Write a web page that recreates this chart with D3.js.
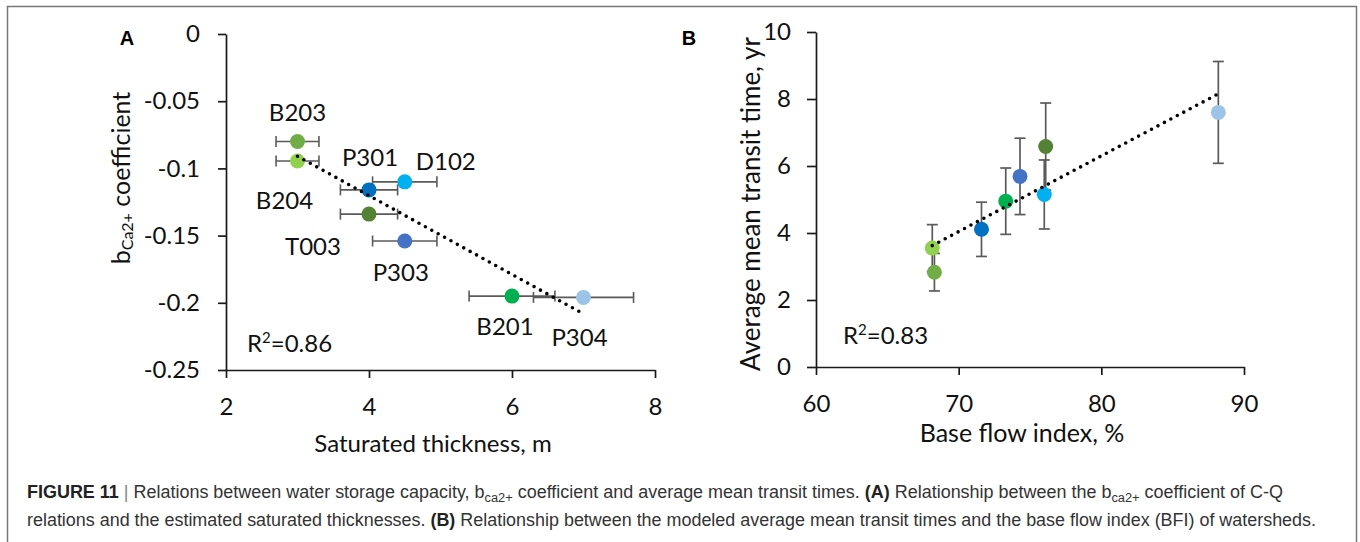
<!DOCTYPE html>
<html><head><meta charset="utf-8">
<script src="https://cdn.jsdelivr.net/npm/d3@7"></script>
<style>body{margin:0;background:#fff} svg{display:block}</style>
</head><body><svg id="c" width="1360" height="542"></svg>
<script>
// ---------- data ----------
const siteNames = ["B203","B204","P301","D102","T003","P303","B201","P304"];
const siteColors = ["#70AD47","#92D050","#0070C0","#00B0F0","#548235","#4472C4","#00B050","#9DC3E6"];
// Panel A: saturated thickness (m) vs b_Ca2+ coefficient
const thickness = [3, 3, 4, 4.5, 4, 4.5, 6, 7];
const thicknessErr = [0.3, 0.3, 0.4, 0.45, 0.4, 0.45, 0.6, 0.7];
const bCoef = [-0.08, -0.0945, -0.116, -0.11, -0.134, -0.154, -0.195, -0.196];
// Panel B: base flow index (%) vs average mean transit time (yr)
const bfi = [68.3, 68.15, 71.6, 76.0, 76.1, 74.3, 73.3, 88.2];
const transit = [2.83, 3.55, 4.11, 5.15, 6.58, 5.69, 4.95, 7.6];
const transitErr = [0.56, 0.7, 0.81, 1.03, 1.3, 1.14, 0.99, 1.52];
// ticks
const aXTicks = [2, 4, 6, 8];
const aYTicks = [0, -0.05, -0.1, -0.15, -0.2, -0.25];
const aYTickLabels = ["0", "-0.05", "-0.1", "-0.15", "-0.2", "-0.25"];
const bXTicks = [60, 70, 80, 90];
const bYTicks = [0, 2, 4, 6, 8, 10];
const r2A = "0.86", r2B = "0.83";

// ---------- layout (not data) ----------
const labelOffsetA = {B203:[0,-30],B204:[-13,38],P301:[1,-33],D102:[41,-21],T003:[-56,31],P303:[-4,31],B201:[-7,29],P304:[-4,39]};
const FONT = "Lato, 'Open Sans', sans-serif";
const AXIS_COL = "#1a1a1a", ERR_COL = "#5a5a5a";

const svg = d3.select("#c");
svg.append("rect").attr("width",1360).attr("height",542).attr("fill","#fff");
svg.append("rect").attr("x",7.5).attr("y",6.5).attr("width",1349).attr("height",560)
  .attr("fill","none").attr("stroke","#777").attr("stroke-width",1.5);

function linreg(xs, ys){
  const n = xs.length, mx = d3.mean(xs), my = d3.mean(ys);
  let sxy=0,sxx=0; for(let i=0;i<n;i++){sxy+=(xs[i]-mx)*(ys[i]-my); sxx+=(xs[i]-mx)**2;}
  const m = sxy/sxx; return x => my + m*(x-mx);
}

function styleAxis(g){
  g.select(".domain").attr("stroke",AXIS_COL).attr("stroke-width",1.7);
  g.selectAll(".tick line").attr("stroke",AXIS_COL).attr("stroke-width",1.7);
  g.selectAll(".tick text").attr("fill","#111").style("font-family",FONT).style("font-size","24px");
}

// ---------- Panel A ----------
const xA = d3.scaleLinear().domain([2,8]).range([226,655]);
const yA = d3.scaleLinear().domain([-0.25,0]).range([370,34]);
const gA = svg.append("g");
gA.append("g").attr("transform",`translate(0,${yA(-0.25)})`)
  .call(d3.axisBottom(xA).tickValues(aXTicks).tickFormat(d3.format("d")).tickSize(8).tickSizeOuter(0).tickPadding(20))
  .call(styleAxis);
gA.append("g").attr("transform",`translate(${xA(2)},0)`)
  .call(d3.axisLeft(yA).tickValues(aYTicks).tickFormat((d,i)=>aYTickLabels[i]).tickSize(8).tickSizeOuter(0).tickPadding(18))
  .call(styleAxis);

// error bars A
const ptsA = siteNames.map((n,i)=>({n, x:thickness[i], y:bCoef[i], e:thicknessErr[i], c:siteColors[i]}));
const ebA = gA.append("g").attr("stroke",ERR_COL).attr("stroke-width",1.6);
ptsA.forEach(p=>{
  ebA.append("line").attr("x1",xA(p.x-p.e)).attr("x2",xA(p.x+p.e)).attr("y1",yA(p.y)).attr("y2",yA(p.y));
  [p.x-p.e,p.x+p.e].forEach(v=>ebA.append("line").attr("x1",xA(v)).attr("x2",xA(v)).attr("y1",yA(p.y)-5.5).attr("y2",yA(p.y)+5.5));
});
gA.selectAll("circle.pt").data(ptsA).join("circle").attr("class","pt")
  .attr("cx",d=>xA(d.x)).attr("cy",d=>yA(d.y)).attr("r",7.5).attr("fill",d=>d.c);
// trend A
const fA = linreg(thickness, bCoef);
const xminA = d3.min(thickness), xmaxA = d3.max(thickness);
gA.append("line").attr("x1",xA(xminA)).attr("y1",yA(fA(xminA))).attr("x2",xA(xmaxA)).attr("y2",yA(fA(xmaxA)))
  .attr("stroke","#000").attr("stroke-width",3.6).attr("stroke-linecap","round").attr("stroke-dasharray","0 7.3");
// labels A
gA.selectAll("text.lbl").data(ptsA).join("text").attr("class","lbl")
  .attr("x",d=>xA(d.x)+labelOffsetA[d.n][0]).attr("y",d=>yA(d.y)+labelOffsetA[d.n][1])
  .attr("text-anchor","middle").attr("dominant-baseline","central")
  .style("font-family",FONT).style("font-size","24px").attr("fill","#111").text(d=>d.n);
// R2 A
const rA = gA.append("text").attr("x",247).attr("y",352).style("font-family",FONT).style("font-size","24px").attr("fill","#111");
rA.append("tspan").text("R");
rA.append("tspan").attr("dy",-9).style("font-size","15px").text("2");
rA.append("tspan").attr("dy",9).text("="+r2A);
// titles A
gA.append("text").attr("x",433).attr("y",442).attr("text-anchor","middle").attr("dominant-baseline","central")
  .style("font-family",FONT).style("font-size","24px").attr("fill","#111").text("Saturated thickness, m");
const tA = gA.append("text").attr("transform","translate(120,178) rotate(-90)").attr("text-anchor","middle")
  .attr("dominant-baseline","central").style("font-family",FONT).style("font-size","25px").attr("fill","#111");
tA.append("tspan").text("b");
tA.append("tspan").attr("dy",6).style("font-size","16px").text("Ca2+");
tA.append("tspan").attr("dy",-6).text(" coefficient");
svg.append("text").attr("x",127).attr("y",38).attr("text-anchor","middle").attr("dominant-baseline","central")
  .style("font-family","'Liberation Sans', Arial, sans-serif").style("font-weight","bold").style("font-size","20px").text("A");

// ---------- Panel B ----------
const xB = d3.scaleLinear().domain([60,90]).range([816,1244]);
const yB = d3.scaleLinear().domain([0,10]).range([367,32]);
const gB = svg.append("g");
gB.append("g").attr("transform",`translate(0,${yB(0)})`)
  .call(d3.axisBottom(xB).tickValues(bXTicks).tickFormat(d3.format("d")).tickSize(8).tickSizeOuter(0).tickPadding(20))
  .call(styleAxis);
gB.append("g").attr("transform",`translate(${xB(60)},0)`)
  .call(d3.axisLeft(yB).tickValues(bYTicks).tickFormat(d3.format("d")).tickSize(9).tickSizeOuter(0).tickPadding(16))
  .call(styleAxis);
const ptsB = siteNames.map((n,i)=>({n, x:bfi[i], y:transit[i], e:transitErr[i], c:siteColors[i]}));
const ebB = gB.append("g").attr("stroke",ERR_COL).attr("stroke-width",1.7);
ptsB.forEach(p=>{
  ebB.append("line").attr("x1",xB(p.x)).attr("x2",xB(p.x)).attr("y1",yB(p.y-p.e)).attr("y2",yB(p.y+p.e));
  [p.y-p.e,p.y+p.e].forEach(v=>ebB.append("line").attr("x1",xB(p.x)-5.5).attr("x2",xB(p.x)+5.5).attr("y1",yB(v)).attr("y2",yB(v)));
});
gB.selectAll("circle.pt").data(ptsB).join("circle").attr("class","pt")
  .attr("cx",d=>xB(d.x)).attr("cy",d=>yB(d.y)).attr("r",7.5).attr("fill",d=>d.c);
const fB = linreg(bfi, transit);
const xminB = d3.min(bfi), xmaxB = d3.max(bfi);
gB.append("line").attr("x1",xB(xminB)).attr("y1",yB(fB(xminB))).attr("x2",xB(xmaxB)-2).attr("y2",yB(fB(xmaxB-0.14)))
  .attr("stroke","#000").attr("stroke-width",3.6).attr("stroke-linecap","round").attr("stroke-dasharray","0 7.3");
const rB = gB.append("text").attr("x",843).attr("y",344).style("font-family",FONT).style("font-size","24px").attr("fill","#111");
rB.append("tspan").text("R");
rB.append("tspan").attr("dy",-9).style("font-size","15px").text("2");
rB.append("tspan").attr("dy",9).text("="+r2B);
gB.append("text").attr("x",1022).attr("y",432).attr("text-anchor","middle").attr("dominant-baseline","central")
  .style("font-family",FONT).style("font-size","25px").attr("fill","#111").text("Base flow index, %");
gB.append("text").attr("transform","translate(750,204) rotate(-90)").attr("text-anchor","middle")
  .attr("dominant-baseline","central").style("font-family",FONT).style("font-size","26px").attr("fill","#111")
  .text("Average mean transit time, yr");
svg.append("text").attr("x",689).attr("y",38).attr("text-anchor","middle").attr("dominant-baseline","central")
  .style("font-family","'Liberation Sans', Arial, sans-serif").style("font-weight","bold").style("font-size","20px").text("B");

// ---------- caption ----------
const CAP = "'Liberation Sans Narrow', 'Liberation Sans', Arial, sans-serif";
function caption(y, len, parts){
  const t = svg.append("text").attr("x",27).attr("y",y).style("font-family",CAP).style("font-size","17.5px")
    .attr("fill","#333").attr("textLength",len).attr("lengthAdjust","spacingAndGlyphs");
  parts.forEach(p=>{
    const s = t.append("tspan").text(p.t);
    if(p.b) s.style("font-weight","bold").attr("fill","#222");
    if(p.sub) s.attr("dy",4).style("font-size","12.5px");
    if(p.up) s.attr("dy",-4);
    if(p.bar) s.attr("fill","#888");
  });
}
caption(498, 1256, [
  {t:"FIGURE 11", b:true},{t:" | ", bar:true},
  {t:"Relations between water storage capacity, b"},{t:"ca2+", sub:true},
  {t:" coefficient and average mean transit times. ", up:true},{t:"(A)", b:true},
  {t:" Relationship between the b"},{t:"ca2+", sub:true},{t:" coefficient of C-Q", up:true}
]);
caption(526, 1289, [
  {t:"relations and the estimated saturated thicknesses. "},{t:"(B)", b:true},
  {t:" Relationship between the modeled average mean transit times and the base flow index (BFI) of watersheds."}
]);
</script></body></html>
